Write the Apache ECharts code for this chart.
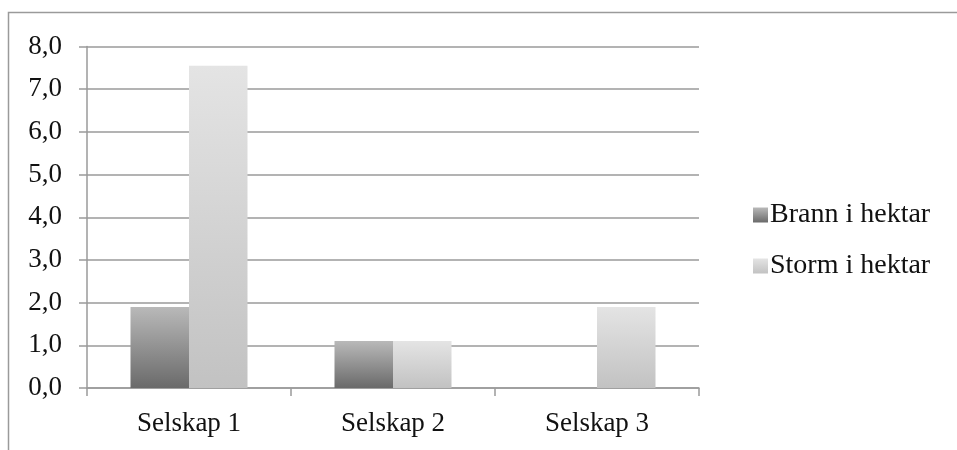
<!DOCTYPE html>
<html>
<head>
<meta charset="utf-8">
<script src="https://cdn.jsdelivr.net/npm/echarts@6/dist/echarts.min.js"></script>
<style>
html,body{margin:0;padding:0;background:#fff;}
#chart{width:957px;height:450px;}
</style>
</head>
<body>
<div id="chart"></div>
<script>
const categories = ['Selskap 1', 'Selskap 2', 'Selskap 3'];
const brannValues = [1.9, 1.1, 0];
const stormValues = [7.55, 1.1, 1.9];
const seriesNames = ['Brann i hektar', 'Storm i hektar'];
const yTicks = [0, 1, 2, 3, 4, 5, 6, 7, 8];

const FONT = '"Liberation Serif", "DejaVu Serif", serif';
const chart = echarts.init(document.getElementById('chart'), null, {renderer: 'canvas'});

const brannColor = new echarts.graphic.LinearGradient(0, 0, 0, 1, [
  {offset: 0, color: '#b9b9b9'},
  {offset: 1, color: '#6a6a6a'}
]);
const stormColor = new echarts.graphic.LinearGradient(0, 0, 0, 1, [
  {offset: 0, color: '#e4e4e4'},
  {offset: 1, color: '#c2c2c2'}
]);

chart.setOption({
  animation: false,
  backgroundColor: '#fff',
  graphic: [{
    type: 'rect',
    shape: {x: 8.5, y: 12.5, width: 1200, height: 800},
    style: {fill: 'none', stroke: '#9a9a9a', lineWidth: 1.5},
    silent: true
  }],
  grid: {left: 87, right: 258, top: 46.5, bottom: 62, containLabel: false},
  legend: {
    orient: 'vertical',
    left: 748,
    top: 196,
    itemWidth: 15,
    itemHeight: 15,
    itemGap: 23,
    icon: 'rect',
    textStyle: {fontFamily: FONT, fontSize: 28, color: '#111', padding: [0, 0, 0, -3]},
    data: seriesNames
  },
  xAxis: {
    type: 'category',
    data: categories,
    axisLine: {lineStyle: {color: '#9a9a9a', width: 1.5}},
    axisTick: {show: true, length: 8, alignWithLabel: false, lineStyle: {color: '#9a9a9a', width: 1.5}},
    axisLabel: {fontFamily: FONT, fontSize: 27, color: '#111', margin: 22}
  },
  yAxis: {
    type: 'value',
    min: yTicks[0],
    max: yTicks[yTicks.length - 1],
    interval: 1,
    axisLine: {show: true, lineStyle: {color: '#9a9a9a', width: 1.5}},
    axisTick: {show: true, length: 8, lineStyle: {color: '#9a9a9a', width: 1.5}},
    splitLine: {show: true, lineStyle: {color: '#9a9a9a', width: 1.5}},
    axisLabel: {
      fontFamily: FONT, fontSize: 27, color: '#111', margin: 25,
      formatter: v => v.toFixed(1).replace('.', ',')
    }
  },
  series: [
    {
      name: seriesNames[0],
      type: 'bar',
      data: brannValues,
      barWidth: 58.5,
      barGap: '0%',
      itemStyle: {color: brannColor}
    },
    {
      name: seriesNames[1],
      type: 'bar',
      data: stormValues,
      barWidth: 58.5,
      barGap: '0%',
      itemStyle: {color: stormColor}
    }
  ]
});
</script>
</body>
</html>
